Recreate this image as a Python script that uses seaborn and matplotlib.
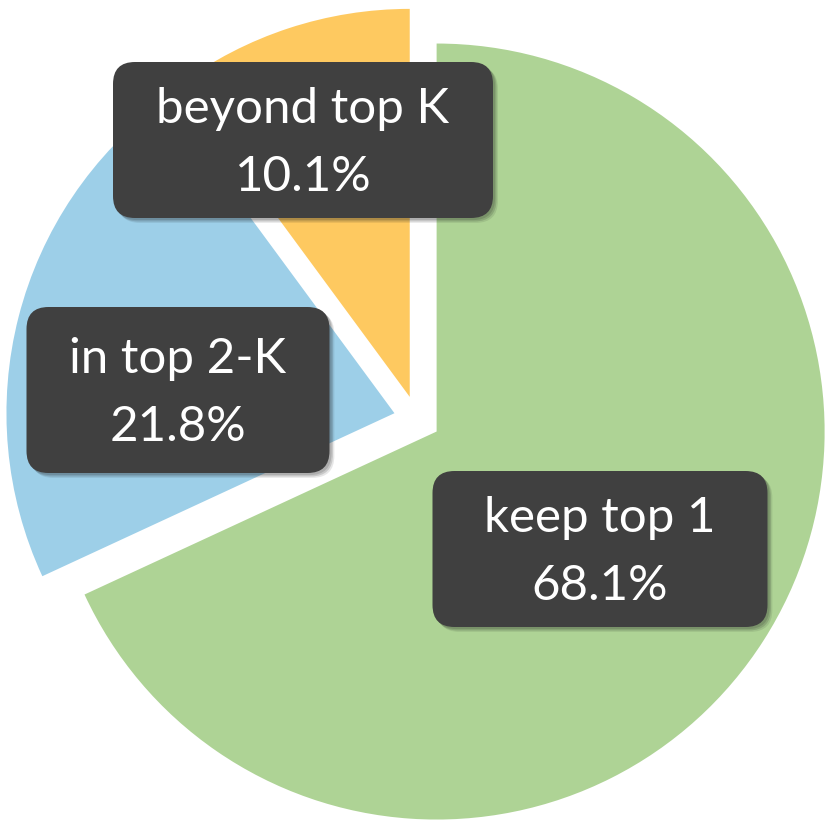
import matplotlib
matplotlib.use("Agg")
import matplotlib.pyplot as plt
import matplotlib.patheffects as pe
from matplotlib.patches import FancyBboxPatch
import seaborn as sns

# data
categories = ["keep top 1", "in top 2-K", "beyond top K"]
shares = [68.1, 21.8, 10.1]
slice_colors = ["#AED395", "#9DCFE8", "#FEC960"]

# label layout (pixels in the 830x825 picture)
label_centers_px = [(600, 549), (178, 390), (303, 140)]
box_sizes_px = [(335, 156), (303, 166), (380, 156)]

R_PX = 388.0
CX, CY = 417.0, 419.0
W, H = 830, 825

sns.set_theme(style="white")
plt.rcParams["font.family"] = ["Lato", "DejaVu Sans"]

fig = plt.figure(figsize=(W / 100, H / 100), dpi=100)
ax = fig.add_axes([0, 0, 1, 1])

ax.pie(shares, colors=slice_colors, startangle=90, counterclock=False,
       explode=[0.06] * len(shares), radius=1,
       wedgeprops=dict(linewidth=0))

ax.set_xlim(-CX / R_PX, (W - CX) / R_PX)
ax.set_ylim(-(H - CY) / R_PX, CY / R_PX)
ax.set_aspect("equal")
ax.axis("off")

shadow = [pe.SimplePatchShadow(offset=(3.5, -3.5), shadow_rgbFace="k", alpha=0.10),
          pe.SimplePatchShadow(offset=(2.5, -2.5), shadow_rgbFace="k", alpha=0.15),
          pe.SimplePatchShadow(offset=(1.5, -1.5), shadow_rgbFace="k", alpha=0.15),
          pe.Normal()]

for name, share, (px, py), (bw, bh) in zip(categories, shares, label_centers_px, box_sizes_px):
    x = (px - CX) / R_PX
    y = (CY - py) / R_PX
    w = bw / R_PX
    h = bh / R_PX
    box = FancyBboxPatch((x - w / 2, y - h / 2), w, h,
                         boxstyle=f"round,pad=0,rounding_size={22 / R_PX}",
                         fc="#404040", ec="none", zorder=3)
    box.set_path_effects(shadow)
    ax.add_patch(box)
    ax.text(x, y - 3 / R_PX, f"{name}\n{share:.1f}%", ha="center", va="center",
            color="white", fontsize=35.5, linespacing=1.65, zorder=4)

fig.savefig("out.png", dpi=100, facecolor="white")
